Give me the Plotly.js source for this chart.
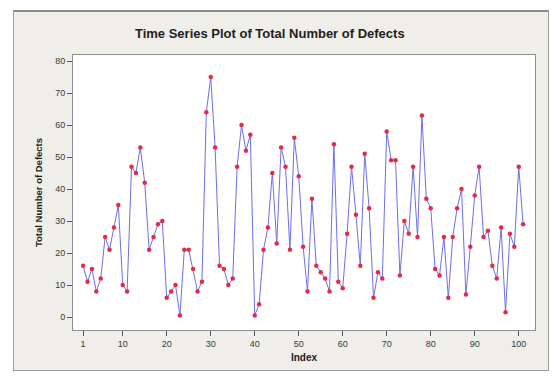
<!DOCTYPE html>
<html>
<head>
<meta charset="utf-8">
<script src="https://cdn.plot.ly/plotly-3.0.1.min.js"></script>
<style>
  html, body { margin: 0; padding: 0; background: #ffffff; width: 556px; height: 376px; overflow: hidden; }
  #frame { position: absolute; left: 13px; top: 10px; width: 534px; height: 358px;
           background: #efeee8; border: 1px solid #9c9c9c; border-top: 2px solid #8c8c8c; }
  #chart { position: absolute; left: 0; top: 0; width: 556px; height: 376px; }
</style>
</head>
<body>
<div id="frame"></div>
<div id="chart"></div>
<script>
// Total number of defects (index 1..101)
const defects = [
  16, 11, 15, 8, 12, 25, 21, 28, 35, 10,
  8, 47, 45, 53, 42, 21, 25, 29, 30, 6,
  8, 10, 0.5, 21, 21, 15, 8, 11, 64, 75,
  53, 16, 15, 10, 12, 47, 60, 52, 57, 0.5,
  4, 21, 28, 45, 23, 53, 47, 21, 56, 44,
  22, 8, 37, 16, 14, 12, 8, 54, 11, 9,
  26, 47, 32, 16, 51, 34, 6, 14, 12, 58,
  49, 49, 13, 30, 26, 47, 25, 63, 37, 34,
  15, 13, 25, 6, 25, 34, 40, 7, 22, 38,
  47, 25, 27, 16, 12, 28, 1.5, 26, 22, 47,
  29
];
const indexVals = defects.map((_, i) => i + 1);
const xTickVals = [1, 10, 20, 30, 40, 50, 60, 70, 80, 90, 100];
const yTickVals = [0, 10, 20, 30, 40, 50, 60, 70, 80];

const trace = {
  x: indexVals,
  y: defects,
  type: 'scatter',
  mode: 'lines+markers',
  line: { color: '#6f6fe8', width: 1 },
  marker: { color: '#e52a48', size: 4.5 },
  hoverinfo: 'none'
};

const axisFont = { family: 'Liberation Sans, Arial, sans-serif', size: 9, color: '#3a3a3a' };

const layout = {
  width: 556,
  height: 376,
  margin: { l: 73, r: 21, t: 55, b: 46, pad: 0 },
  paper_bgcolor: 'rgba(0,0,0,0)',
  plot_bgcolor: '#ffffff',
  showlegend: false,
  title: {
    text: '<b>Time Series Plot of Total Number of Defects</b>',
    font: { family: 'Liberation Sans, Arial, sans-serif', size: 13, color: '#222222' },
    xref: 'paper', x: 0.426, xanchor: 'center',
    yref: 'container', y: 0.912, yanchor: 'middle'
  },
  xaxis: {
    range: [-1.3, 103.7],
    tickvals: xTickVals,
    ticktext: xTickVals.map(String),
    ticks: 'outside', ticklen: 5, tickcolor: '#555555', tickwidth: 1,
    showgrid: false, zeroline: false,
    showline: true, mirror: true, linecolor: '#8f8f8f', linewidth: 1,
    tickfont: axisFont,
    title: { text: '<b>Index</b>', font: { family: 'Liberation Sans, Arial, sans-serif', size: 10, color: '#222222' }, standoff: 6 }
  },
  yaxis: {
    range: [-4.06, 81.9],
    tickvals: yTickVals,
    ticktext: yTickVals.map(String),
    ticks: 'outside', ticklen: 5, tickcolor: '#555555', tickwidth: 1,
    showgrid: false, zeroline: false,
    showline: true, mirror: true, linecolor: '#8f8f8f', linewidth: 1,
    tickfont: axisFont,
    title: { text: '<b>Total Number of Defects</b>', font: { family: 'Liberation Sans, Arial, sans-serif', size: 9.5, color: '#222222' }, standoff: 10 }
  }
};

Plotly.newPlot('chart', [trace], layout, { displayModeBar: false, staticPlot: true });
</script>
</body>
</html>
